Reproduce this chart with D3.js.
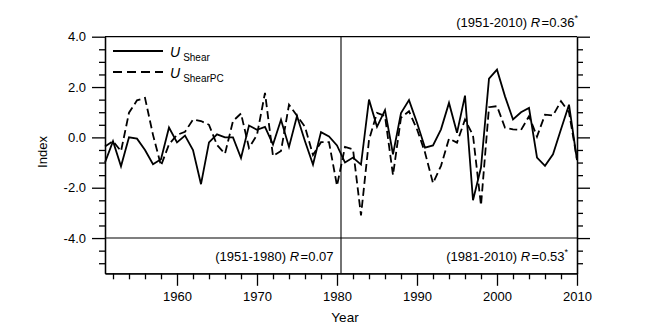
<!DOCTYPE html>
<html>
<head>
<meta charset="utf-8">
<script src="https://cdn.jsdelivr.net/npm/d3@7"></script>
<style>
  body { margin: 0; background: #fff; }
  svg { display: block; font-family: "Liberation Sans", Arial, sans-serif; }
  .axis text { font-size: 13px; fill: #000; }
  .axis path, .axis line { stroke: #000; stroke-width: 1.3; }
</style>
</head>
<body>
<div id="chart"></div>
<script>
const years = [
  1951, 1952, 1953, 1954, 1955, 1956, 1957, 1958, 1959, 1960,
  1961, 1962, 1963, 1964, 1965, 1966, 1967, 1968, 1969, 1970,
  1971, 1972, 1973, 1974, 1975, 1976, 1977, 1978, 1979, 1980,
  1981, 1982, 1983, 1984, 1985, 1986, 1987, 1988, 1989, 1990,
  1991, 1992, 1993, 1994, 1995, 1996, 1997, 1998, 1999, 2000,
  2001, 2002, 2003, 2004, 2005, 2006, 2007, 2008, 2009, 2010
]
const uShear = [
  -1.00, -0.15, -1.15, 0.00, -0.05, -0.50, -1.07, -0.87, 0.39, -0.20,
  0.07, -0.50, -1.86, -0.20, 0.12, 0.00, 0.00, -0.82, 0.47, 0.30,
  0.42, -0.28, 0.70, -0.38, 0.85, -0.15, -1.08, 0.21, 0.04, -0.32,
  -1.00, -0.80, -1.08, 1.50, 0.42, 1.08, -0.67, 0.97, 1.48, 0.58,
  -0.41, -0.32, 0.32, 1.37, 0.18, 1.66, -2.50, -1.20, 2.33, 2.69,
  1.63, 0.71, 1.00, 1.17, -0.80, -1.13, -0.67, 0.32, 1.30, -0.90
]
const uShearPC = [
  -0.36, -0.15, -0.55, 0.98, 1.47, 1.57, 0.10, -1.12, -0.28, 0.10,
  0.22, 0.71, 0.65, 0.50, -0.30, -0.65, 0.65, 0.95, -0.42, 0.10,
  1.77, -0.74, -0.54, 1.30, 0.86, 0.42, -0.70, -0.19, -0.19, -1.92,
  -0.38, -0.47, -3.10, -0.10, 0.97, 0.85, -1.50, 0.78, 1.04, 0.32,
  -0.60, -1.82, -1.13, -0.05, -0.21, 0.71, 0.08, -2.70, 1.20, 1.24,
  0.38, 0.32, 0.29, 0.84, 0.03, 0.90, 0.87, 1.44, 1.00, -0.87
]
const yMajorTicks = [-4, -2, 0, 2, 4]
const yMinorTicks = [-5, -4.5, -3.5, -3, -2.5, -1.5, -1, -0.5, 0.5, 1, 1.5, 2.5, 3, 3.5]
const xMajorTicks = [1960, 1970, 1980, 1990, 2000, 2010]
const xMinorTicks = [1952, 1954, 1956, 1958, 1962, 1964, 1966, 1968, 1972, 1974, 1976, 1978,
  1982, 1984, 1986, 1988, 1992, 1994, 1996, 1998, 2002, 2004, 2006, 2008]
const splitYear = 1980.5
const refLevel = -4

const width = 655, height = 334
const margin = {top: 36.7, right: 78, bottom: 60.7, left: 105}

const x = d3.scaleLinear()
  .domain([1951, 2010])
  .range([margin.left, width - margin.right])
const y = d3.scaleLinear()
  .domain([-5.4, 4])
  .range([height - margin.bottom, margin.top])

const svg = d3.select("#chart").append("svg")
  .attr("width", width)
  .attr("height", height)

const fmt = (d) => d.toFixed(1)
const x0 = x.range()[0], x1 = x.range()[1]
const y0 = y.range()[0], y1 = y.range()[1]

// minor ticks first, then major ticks with labels
svg.append("g").attr("class", "axis")
  .attr("transform", `translate(${x0},0)`)
  .call(d3.axisLeft(y).tickValues(yMinorTicks).tickSize(6).tickFormat("").tickSizeOuter(0))
svg.append("g").attr("class", "axis")
  .attr("transform", `translate(${x0},0)`)
  .call(d3.axisLeft(y).tickValues(yMajorTicks).tickSize(13).tickPadding(6).tickFormat(fmt).tickSizeOuter(0))

svg.append("g").attr("class", "axis")
  .attr("transform", `translate(${x1},0)`)
  .call(d3.axisRight(y).tickValues(yMinorTicks).tickSize(6).tickFormat("").tickSizeOuter(0))
svg.append("g").attr("class", "axis")
  .attr("transform", `translate(${x1},0)`)
  .call(d3.axisRight(y).tickValues(yMajorTicks).tickSize(13).tickFormat("").tickSizeOuter(0))

svg.append("g").attr("class", "axis")
  .attr("transform", `translate(0,${y0})`)
  .call(d3.axisBottom(x).tickValues(xMinorTicks).tickSize(6).tickFormat("").tickSizeOuter(0))
svg.append("g").attr("class", "axis")
  .attr("transform", `translate(0,${y0})`)
  .call(d3.axisBottom(x).tickValues(xMajorTicks).tickSize(12.5).tickPadding(5.5).tickFormat(d3.format("d")).tickSizeOuter(0))

// top frame line
svg.append("line")
  .attr("x1", x0).attr("x2", x1)
  .attr("y1", y1).attr("y2", y1)
  .attr("stroke", "#000").attr("stroke-width", 1.3)

// -4.0 reference line and split line
svg.append("line")
  .attr("x1", x0).attr("x2", x1)
  .attr("y1", y(refLevel)).attr("y2", y(refLevel))
  .attr("stroke", "#000").attr("stroke-width", 1.1)
svg.append("line")
  .attr("x1", x(splitYear)).attr("x2", x(splitYear))
  .attr("y1", y1).attr("y2", y0)
  .attr("stroke", "#000").attr("stroke-width", 1.1)

const line = d3.line()
  .x((d, i) => x(years[i]))
  .y((d) => y(d))

svg.append("path")
  .datum(uShearPC)
  .attr("d", line)
  .attr("fill", "none")
  .attr("stroke", "#000")
  .attr("stroke-width", 1.8)
  .attr("stroke-dasharray", "8,4")
  .attr("stroke-linejoin", "miter")

svg.append("path")
  .datum(uShear)
  .attr("d", line)
  .attr("fill", "none")
  .attr("stroke", "#000")
  .attr("stroke-width", 1.8)
  .attr("stroke-linejoin", "miter")

// axis titles
svg.append("text")
  .attr("x", (x0 + x1) / 2 + 4)
  .attr("y", 322)
  .attr("text-anchor", "middle")
  .attr("font-size", 13.5)
  .text("Year")

svg.append("text")
  .attr("transform", `translate(47,152) rotate(-90)`)
  .attr("text-anchor", "middle")
  .attr("font-size", 13)
  .text("Index")

// legend
const legend = [
  {label: "Shear", dash: null, y: 51},
  {label: "ShearPC", dash: "9,5", y: 72}
]
legend.forEach((l) => {
  svg.append("line")
    .attr("x1", 113).attr("x2", 163)
    .attr("y1", l.y).attr("y2", l.y)
    .attr("stroke", "#000").attr("stroke-width", 1.8)
    .attr("stroke-dasharray", l.dash)
  const t = svg.append("text")
    .attr("x", 170).attr("y", l.y + 5.5)
    .attr("font-size", 14)
  t.append("tspan").attr("font-style", "italic").text("U")
  t.append("tspan").attr("dx", 3).attr("dy", 4).attr("font-size", 10).text(l.label)
})

// correlation notes
function note(xp, yp, period, r, star) {
  const t = svg.append("text")
    .attr("x", xp).attr("y", yp)
    .attr("text-anchor", "end")
    .attr("font-size", 13)
  t.append("tspan").text(period + " ")
  t.append("tspan").attr("font-style", "italic").text("R")
  t.append("tspan").attr("dx", 1.5).text("=" + r)
  if (star) t.append("tspan").attr("dy", -6).attr("font-size", 9).text("*")
}
note(578, 27, "(1951-2010)", "0.36", true)
note(333.5, 260.5, "(1951-1980)", "0.07", false)
note(568, 260.5, "(1981-2010)", "0.53", true)
</script>
</body>
</html>
